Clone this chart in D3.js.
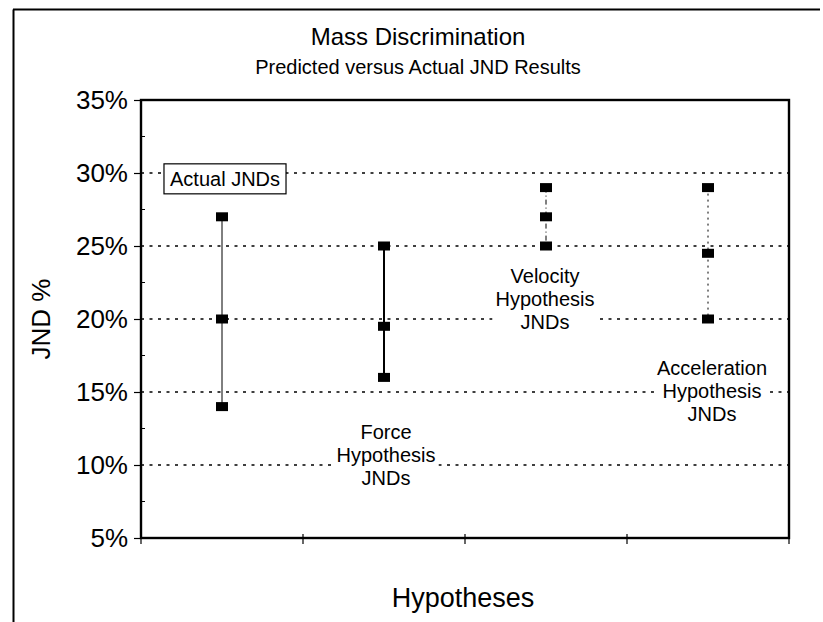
<!DOCTYPE html>
<html>
<head>
<meta charset="utf-8">
<script src="https://cdn.jsdelivr.net/npm/d3@7"></script>
<style>
  html, body { margin: 0; padding: 0; background: #fff; }
  svg { display: block; font-family: "Liberation Sans", Arial, Helvetica, sans-serif; }
</style>
</head>
<body>
<svg id="chart" width="823" height="622"></svg>
<script>
// ---- data ----
const categories = ["Actual", "Force", "Velocity", "Acceleration"];
const highValues = [27, 25, 29, 29];
const midValues  = [20, 19.5, 27, 24.5];
const lowValues  = [14, 16, 25, 20];
const yTickValues = [5, 10, 15, 20, 25, 30, 35];
const gridValues = [10, 15, 20, 25, 30];
const minorTickValues = [7.5, 12.5, 17.5, 22.5, 27.5, 32.5];
const labelLines = [
  ["Actual JNDs"],
  ["Force", "Hypothesis", "JNDs"],
  ["Velocity", "Hypothesis", "JNDs"],
  ["Acceleration", "Hypothesis", "JNDs"]
];
const titleText = "Mass Discrimination";
const subtitleText = "Predicted versus Actual JND Results";
const yTitle = "JND %";
const xTitle = "Hypotheses";

// ---- layout ----
const svg = d3.select("#chart");
const L = 141, R = 789, T = 100, B = 538;

const x = d3.scaleBand().domain(categories).range([L, R]).padding(0);
const y = d3.scaleLinear().domain([5, 35]).range([B, T]);
const cx = c => x(c) + x.bandwidth() / 2;

// outer chart border (left + top visible)
svg.append("line").attr("x1", 13.5).attr("x2", 13.5).attr("y1", 9.5).attr("y2", 622).attr("stroke", "#000").attr("stroke-width", 2);
svg.append("line").attr("x1", 13).attr("x2", 820).attr("y1", 9.5).attr("y2", 9.5).attr("stroke", "#000").attr("stroke-width", 2);

// titles
svg.append("text").attr("x", 418).attr("y", 45).attr("text-anchor", "middle")
  .attr("font-size", 24).text(titleText);
svg.append("text").attr("x", 418).attr("y", 74).attr("text-anchor", "middle")
  .attr("font-size", 20).text(subtitleText);

// gridlines
svg.append("g").selectAll("line").data(gridValues).join("line")
  .attr("x1", L).attr("x2", R)
  .attr("y1", d => y(d)).attr("y2", d => y(d))
  .attr("stroke", "#000").attr("stroke-width", 1.4)
  .attr("stroke-dasharray", "3,5.5");

// y axis
const yAxis = d3.axisLeft(y).tickValues(yTickValues).tickFormat(d => d + "%").tickSize(7).tickPadding(6);
const gy = svg.append("g").attr("transform", `translate(${L},0)`).call(yAxis);
gy.select(".domain").remove();
gy.selectAll("text").attr("font-size", 26).attr("font-family", "Liberation Sans, Arial, sans-serif").attr("fill", "#000");
gy.selectAll("line").attr("stroke", "#000").attr("stroke-width", 1.2);

// minor inside ticks
svg.append("g").selectAll("line").data(minorTickValues).join("line")
  .attr("x1", L).attr("x2", L + 4)
  .attr("y1", d => y(d)).attr("y2", d => y(d))
  .attr("stroke", "#000").attr("stroke-width", 1);

// x axis ticks at category boundaries
const bounds = categories.map(c => x(c)).concat([R]);
svg.append("g").selectAll("line").data(bounds).join("line")
  .attr("x1", d => d).attr("x2", d => d)
  .attr("y1", B - 4).attr("y2", B + 6)
  .attr("stroke", "#000").attr("stroke-width", 1.2);

// plot frame
svg.append("rect").attr("x", L).attr("y", T).attr("width", R - L).attr("height", B - T)
  .attr("fill", "none").attr("stroke", "#000").attr("stroke-width", 2.4);

// axis titles
svg.append("text").attr("transform", `translate(50,${(T + B) / 2}) rotate(-90)`)
  .attr("text-anchor", "middle").attr("font-size", 26).text(yTitle);
svg.append("text").attr("x", 463).attr("y", 607).attr("text-anchor", "middle")
  .attr("font-size", 27).text(xTitle);

// range lines
const lineStyles = [
  { w: 1, dash: null },
  { w: 2, dash: null },
  { w: 1, dash: "5,3,1,3" },
  { w: 1, dash: "2,4" }
];
svg.append("g").selectAll("line").data(categories).join("line")
  .attr("x1", d => cx(d)).attr("x2", d => cx(d))
  .attr("y1", (d, i) => y(highValues[i])).attr("y2", (d, i) => y(lowValues[i]))
  .attr("stroke", "#000")
  .attr("stroke-width", (d, i) => lineStyles[i].w)
  .attr("stroke-dasharray", (d, i) => lineStyles[i].dash);

// markers
const pts = [];
categories.forEach((c, i) => {
  [highValues[i], midValues[i], lowValues[i]].forEach(v => pts.push({ c, v }));
});
const mw = 12, mh = 9;
svg.append("g").selectAll("rect").data(pts).join("rect")
  .attr("x", d => cx(d.c) - mw / 2).attr("y", d => y(d.v) - mh / 2)
  .attr("width", mw).attr("height", mh).attr("fill", "#000");

// annotation labels
const labelAnchor = [
  { c: "Actual", v: 29.6, dx: 3 },
  { c: "Force", v: 10.7, dx: 2 },
  { c: "Velocity", v: 21.4, dx: -1 },
  { c: "Acceleration", v: 15.1, dx: 4 }
];
const lh = 23;
labelAnchor.forEach((a, i) => {
  const lines = labelLines[i];
  const g = svg.append("g");
  const cxp = cx(a.c) + a.dx;
  const cyp = y(a.v);
  const txt = g.append("text").attr("text-anchor", "middle").attr("font-size", 20);
  lines.forEach((s, j) => {
    txt.append("tspan").attr("x", cxp)
      .attr("y", cyp + (j - (lines.length - 1) / 2) * lh + 7).text(s);
  });
  const bb = txt.node().getBBox();
  const boxed = i === 0;
  g.insert("rect", "text")
    .attr("x", bb.x - (boxed ? 6 : 3)).attr("y", bb.y - (boxed ? 4 : 1))
    .attr("width", bb.width + (boxed ? 12 : 6)).attr("height", bb.height + (boxed ? 8 : 2))
    .attr("fill", "#fff")
    .attr("stroke", boxed ? "#000" : "none").attr("stroke-width", 1.2);
});
</script>
</body>
</html>
